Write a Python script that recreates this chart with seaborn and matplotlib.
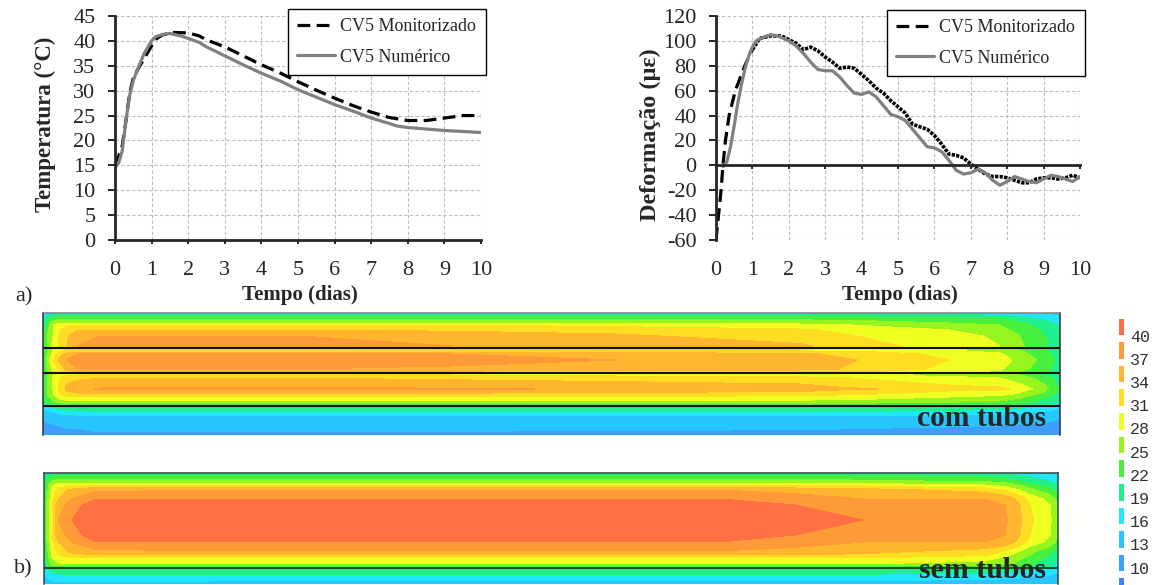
import numpy as np
import matplotlib
matplotlib.use('Agg')
import matplotlib.pyplot as plt
from matplotlib.colors import ListedColormap
import seaborn as sns

# curvas de temperatura (CV5)
t_temp_mon = [0, 0.1, 0.2, 0.3, 0.4, 0.5, 0.6, 0.8, 1, 1.1, 1.3, 1.6, 2, 2.3, 2.5, 3, 3.5, 4, 4.5, 5, 5.5, 6, 6.5, 7, 7.5, 8, 8.5, 9, 9.5, 10]
temp_mon = [15, 16.8, 19, 24, 29.5, 32.5, 34, 36.5, 39, 40.3, 41.2, 41.7, 41.6, 41, 40.2, 38.8, 37, 35.2, 33.6, 31.8, 30.1, 28.5, 27, 25.7, 24.6, 24, 24, 24.5, 25, 25]
t_temp_num = [0, 0.1, 0.2, 0.3, 0.4, 0.5, 0.6, 0.8, 1, 1.1, 1.3, 1.5, 1.8, 2, 2.3, 2.5, 3, 3.5, 4, 4.5, 5, 5.5, 6, 6.5, 7, 7.5, 7.7, 8, 8.5, 9, 9.5, 10]
temp_num = [14.5, 15.5, 18, 24, 29, 32, 34, 37.5, 40, 40.8, 41.3, 41.5, 41, 40.5, 39.7, 38.8, 37, 35.2, 33.5, 32, 30.2, 28.7, 27.2, 25.9, 24.5, 23.4, 22.9, 22.6, 22.3, 22, 21.8, 21.6]

# curvas de deformacao (CV5)
t_def_mon = [0, 0.07, 0.14, 0.19, 0.26, 0.36, 0.53, 0.79, 1, 1.2, 1.5, 1.8, 2, 2.2, 2.4, 2.6, 2.8, 3, 3.2, 3.4, 3.6, 3.8, 4, 4.2, 4.4, 4.6, 4.8, 5, 5.2, 5.4, 5.6, 5.8, 6, 6.2, 6.4, 6.6, 6.8, 7, 7.2, 7.4, 7.6, 7.8, 8, 8.2, 8.4, 8.6, 8.8, 9, 9.2, 9.4, 9.6, 9.8, 10]
def_mon = [-60, -40, -20, 0, 20, 40, 60, 80, 93, 102, 104, 104, 101, 98, 93, 95, 92, 87, 83, 78, 79, 78, 73, 68, 62, 58, 52, 47, 42, 33, 31, 29, 24, 17, 9, 8, 6, 1, -3, -7, -9, -9, -10, -12, -14, -14, -11, -10, -10, -11, -10, -8, -10]
t_def_num = [0.2, 0.3, 0.4, 0.5, 0.6, 0.7, 0.8, 0.9, 1, 1.1, 1.3, 1.5, 1.7, 2, 2.2, 2.4, 2.6, 2.8, 3, 3.2, 3.4, 3.6, 3.8, 4, 4.2, 4.4, 4.6, 4.8, 5, 5.2, 5.4, 5.6, 5.8, 6, 6.2, 6.4, 6.6, 6.8, 7, 7.2, 7.4, 7.6, 7.8, 8, 8.2, 8.4, 8.6, 8.8, 9, 9.2, 9.4, 9.6, 9.8, 10]
def_num = [-1, 3, 15, 32, 50, 65, 78, 88, 95, 100, 103, 105, 104, 100, 96, 90, 83, 77, 76, 76, 71, 64, 58, 57, 59, 55, 48, 41, 39, 36, 29, 22, 15, 14, 11, 4, -4, -7, -6, -3, -6, -12, -16, -13, -9, -11, -13, -14, -11, -8, -9, -11, -13, -9]

x_ticks = list(range(0, 11))
temp_ticks = list(range(0, 50, 5))
def_ticks = list(range(-60, 140, 20))

# escala de cores do mapa termico
levels = [7, 10, 13, 16, 19, 22, 25, 28, 31, 34, 37, 40, 43]
level_colors = ['#4080ff', '#3c9eff', '#28c6ff', '#22e6ff', '#20f08c', '#46f03c',
                '#96f51e', '#f0ff22', '#ffdd22', '#ffb52e', '#ff9a38', '#ff7043']
scale_labels = [40, 37, 34, 31, 28, 25, 22, 19, 16, 13, 10]

# mapa "com tubos": temperatura por coluna (comp_a) e linha (alt_a)
comp_a = [43, 47, 53, 60, 67, 78, 100, 300, 453, 616, 800, 877, 950, 1000, 1020, 1045, 1060]
alt_a = [313, 316, 319, 323, 325, 330, 336, 346, 348, 350, 352, 354, 360, 369, 371.5, 373, 375, 378, 387, 389, 390, 394, 397, 401, 404, 407, 412, 416, 426, 435]
temp_a = [
    [15, 16, 17, 18, 19, 20, 21, 21, 21, 21, 21, 21, 21, 21, 21, 21, 21, 21, 21, 21, 21, 21, 20.5, 20.5, 20, 17, 14, 13, 12, 11],
    [16, 19, 21, 22, 22.5, 24, 25, 25, 25, 25, 25, 25, 26, 25, 25, 25, 25, 25, 25, 25, 25, 25, 24, 23, 21, 18, 15, 14, 12.5, 11.5],
    [18, 21, 24, 26, 28, 28, 28, 29, 28.5, 28, 28.5, 29, 31, 29, 28.5, 28, 28, 28.5, 28.5, 28.5, 28, 28, 27, 25, 23, 20, 16, 14.5, 12.7, 11.7],
    [19, 22, 25, 28, 29.5, 31, 31.5, 31.5, 31, 30, 31, 33, 35, 32, 30.5, 30, 30, 31, 32, 32, 32, 31, 29, 27, 24, 21, 17, 15, 13, 12],
    [19, 22, 25, 28, 30.5, 33, 33.5, 34, 33, 31, 33, 35, 37, 35, 33, 31, 31, 33, 34.5, 34.5, 34.5, 33, 30, 27.5, 24.5, 21.5, 17.5, 15.2, 13.3, 12],
    [19, 22, 25, 28, 31, 34, 37, 37, 33, 31.5, 34, 37, 38, 37, 34, 31, 31, 33.5, 35.5, 35.5, 35.5, 33.5, 30.5, 28, 25, 22, 18, 15.5, 13.5, 12],
    [19, 22, 25, 28, 31, 34, 37, 37.5, 33, 31.5, 34, 37.5, 38.5, 37, 34, 31, 31.5, 34, 36.5, 37.5, 36.5, 34, 31, 28, 25, 22, 18.5, 16, 14, 12.5],
    [19, 22, 25, 28, 31, 34, 37, 37.5, 33, 31.5, 34, 37.5, 38.5, 37, 34, 31, 31.5, 34, 37, 38, 37, 34, 31, 28, 25, 22, 19, 16, 14, 12.5],
    [19, 22, 25, 28, 31, 33.5, 36, 37, 33, 31, 33.5, 37, 38, 36.5, 33.5, 30.5, 31, 33.5, 36, 37.5, 36, 33.5, 31, 28, 25, 22, 19, 16, 14, 12.3],
    [19, 22, 25, 27.5, 30, 33, 34.5, 36, 33, 31, 33.5, 36, 37, 36, 33, 30, 30, 33, 35.5, 36.5, 35.5, 33, 30.5, 28, 25, 22, 19, 16, 14, 12],
    [19, 22, 24.5, 27, 29, 31.5, 32.5, 34.5, 32, 30, 32.5, 34.5, 35.5, 35, 32.5, 29.5, 29.5, 32, 35, 37, 35, 32.5, 30, 27.5, 24.5, 22, 19, 16, 13.7, 12],
    [18.5, 21, 24, 26, 27.5, 29.5, 30.5, 31.5, 30, 29, 31, 32.5, 33.5, 33, 31, 29, 28, 30.5, 33, 34, 33, 31, 29, 27, 24, 21.5, 18.5, 15.5, 13.5, 11.5],
    [18, 20.5, 23, 25, 26.5, 28, 29, 30, 29, 28, 29, 30, 31, 30, 29, 28, 27, 29, 31.5, 32.5, 31.5, 29.5, 28, 26, 23.5, 21, 18, 15.3, 13.2, 11.3],
    [17, 19.5, 22, 24, 25, 26, 27.5, 28, 27.5, 27, 27.5, 28.5, 29.5, 28.5, 27.5, 26.5, 26, 28, 31, 32, 31, 29, 27, 25, 23, 20.5, 17.5, 15, 13, 11],
    [16.5, 18.5, 20.5, 22.5, 23, 24, 25, 25.5, 25, 25, 25.5, 26, 27, 26, 25, 24.5, 25, 26.5, 29, 30, 29, 27.5, 25.5, 24, 22, 20, 17, 14.5, 12.8, 11],
    [15.5, 17, 18.5, 20, 20.5, 21.5, 22, 22.5, 22, 22, 22.5, 23, 24, 23, 22.5, 22, 22, 23.5, 25.5, 26, 25.5, 24, 22.5, 21, 20, 18, 16, 14, 12.5, 10.8],
    [15, 16, 17, 18, 18.5, 19.5, 20, 20, 20, 20, 20.5, 20.5, 21, 20.5, 20, 20, 20, 20.5, 21.5, 22, 21.5, 21, 20, 19, 18, 16.5, 15, 13.5, 12, 10.5],
]

# mapa "sem tubos"
comp_b = [44, 48, 52, 58, 72, 82, 97, 300, 600, 720, 795, 863, 985, 1005, 1020, 1030, 1050, 1058]
alt_b = [473, 476, 481, 484, 486, 488, 490, 499, 505, 520, 535, 542, 551, 555, 558, 564, 566, 570, 575, 584]
temp_b = [
    [18, 19, 20, 20.5, 21, 21, 21, 22, 22.5, 22.5, 22.5, 22, 21, 21, 20, 19, 18, 17, 16, 14],
    [19, 21, 23, 24, 24.5, 25, 25, 26, 27, 27, 27, 26, 25, 25, 24, 22.5, 21, 19, 17, 14.5],
    [20, 22, 25, 27, 28, 28.5, 29, 30, 31, 31, 31, 30, 29, 28.5, 28, 26, 24, 20.5, 18, 15],
    [20, 23, 26, 28.5, 30, 31, 32, 34, 35.5, 37, 35.5, 34, 32, 31, 30, 27.5, 25, 21, 18.5, 15],
    [20, 23, 26, 29, 31, 33, 35, 37, 38.5, 40, 38.5, 37, 35, 33, 31, 28, 25, 21.5, 18.5, 15],
    [20, 23, 26, 29, 31, 33.5, 35.5, 38, 40, 41, 40, 38, 35.5, 33.5, 31, 28, 25, 21.8, 18.7, 15],
    [20, 23, 26, 29, 32, 34.5, 36.5, 40, 41, 42, 41, 40, 36.5, 34, 31, 28, 25, 22, 19, 15],
    [20, 23, 26, 29, 32, 35, 37, 40, 41, 42, 41, 40, 37, 34, 31, 28, 25, 22, 19, 14],
    [20, 23, 26, 29, 32, 35, 37, 40, 41, 42, 41, 40, 37, 34, 31, 28, 25, 22, 19, 14],
    [20, 23, 26, 29, 32, 35, 37, 40, 41, 42, 41, 40, 37, 34, 31, 28, 25, 22, 19, 14],
    [20, 23, 26, 29, 31.5, 34, 36, 38.5, 40, 41.5, 40, 38.5, 36, 34, 31, 28, 25, 22, 19, 14],
    [19.5, 22.5, 25.5, 28.5, 31, 33.5, 35, 37, 38, 40, 38.5, 37, 35, 33.5, 31, 28, 25, 21.5, 18.5, 14.5],
    [18.5, 21.5, 24.5, 27, 29, 31, 33, 37, 37.5, 38, 37.5, 37, 33, 31.5, 29, 27, 24, 21, 18, 14],
    [18, 20.5, 23.5, 26, 27.5, 29, 31, 36, 37, 37.5, 37, 36, 31, 29, 27.5, 26, 23.5, 20.5, 17.5, 14],
    [17.5, 19.5, 22, 24, 25.5, 26.5, 28, 33, 34, 34.5, 34, 33, 28, 26.5, 25.5, 24, 22, 19.5, 17, 14],
    [17, 18.5, 20.5, 22.5, 24, 25, 26, 30, 31, 31.5, 31, 30, 26, 25, 24, 22.5, 21, 19, 16.5, 14],
    [16, 17, 19, 20, 21, 22, 23, 27, 28, 28.5, 28, 27, 23, 22, 21, 20, 19, 17.5, 16, 14],
    [15.5, 16.5, 17.5, 18.5, 19, 20, 21, 24, 25, 25.5, 25, 24, 21, 20, 19, 18.5, 18, 16.5, 15.5, 14],
]

sns.set_style('white')
plt.rcParams['font.family'] = ['Liberation Serif', 'DejaVu Serif']
plt.rcParams['axes.unicode_minus'] = False

W, H = 1155, 585
fig = plt.figure(figsize=(W / 100, H / 100), dpi=100)


def axes_px(left, top, right, bottom):
    return fig.add_axes([left / W, 1 - bottom / H, (right - left) / W, (bottom - top) / H])


def style_chart(ax, ylim, yticks, ylabel, lab_size, xpad, label_x, label_y):
    ax.set_xlim(0, 10)
    ax.set_ylim(*ylim)
    ax.set_xticks(x_ticks)
    ax.set_yticks(yticks)
    ax.grid(True, color='#bdbdbd', linestyle=(0, (3, 2)), linewidth=0.8)
    ax.set_axisbelow(True)
    for side in ['top', 'right']:
        ax.spines[side].set_visible(False)
    ax.spines['left'].set_linewidth(2)
    ax.spines['bottom'].set_linewidth(2)
    ax.tick_params(axis='y', labelsize=16, length=5, width=1.2, pad=9, color='black', left=True)
    ax.tick_params(axis='x', labelsize=16, length=3, width=1.2, pad=xpad, color='black', bottom=True)
    ax.set_ylabel(ylabel, fontsize=lab_size, fontweight='bold')
    ax.yaxis.set_label_coords(label_x, label_y)
    ax.set_xlabel('Tempo (dias)', fontsize=15, fontweight='bold')
    ax.xaxis.set_label_coords(0.504, -0.203)


def add_legend(ax, x0, y0, x1, y1):
    handles, labels = ax.get_legend_handles_labels()
    leg = ax.legend(handles, labels, loc='upper left', fontsize=13, frameon=True, fancybox=False,
                    edgecolor='black', framealpha=1, borderpad=0.5, labelspacing=0.76,
                    handlelength=2.1, handletextpad=0.3, borderaxespad=0,
                    bbox_to_anchor=(x0 / W, 1 - y1 / H, (x1 - x0) / W, (y1 - y0) / H),
                    bbox_transform=fig.transFigure, mode='expand')
    leg.get_frame().set_linewidth(1)


# grafico a) temperatura
ax1 = axes_px(115, 16, 481, 240)
sns.lineplot(x=t_temp_mon, y=temp_mon, ax=ax1, color='black', lw=2.3, linestyle=(0, (4, 2)),
             label='CV5 Monitorizado', errorbar=None)
sns.lineplot(x=t_temp_num, y=temp_num, ax=ax1, color='#808080', lw=2.3, label='CV5 Numérico', errorbar=None)
style_chart(ax1, (0, 45), temp_ticks, 'Temperatura (°C)', 16.5, 12, -0.161, 0.515)
add_legend(ax1, 288, 9, 486, 70)

# grafico b) deformacao
ax2 = axes_px(716, 16, 1080, 240)
n_trace = t_def_mon.index(1) + 1
sns.lineplot(x=t_def_mon[:n_trace], y=def_mon[:n_trace], ax=ax2, color='black', lw=2.3,
             linestyle=(0, (4, 2)), label='CV5 Monitorizado', errorbar=None)
sns.lineplot(x=t_def_mon[n_trace - 1:], y=def_mon[n_trace - 1:], ax=ax2, color='black', lw=2.6,
             linestyle=(0, (0.9, 0.35)), errorbar=None)
sns.lineplot(x=t_def_num, y=def_num, ax=ax2, color='#808080', lw=2.3, label='CV5 Numérico', errorbar=None)
style_chart(ax2, (-60, 120), def_ticks, 'Deformação (με)', 17.5, 66, -0.152, 0.469)
ax2.spines['bottom'].set_position(('data', 0))
add_legend(ax2, 887, 10, 1085, 68)

# mapas de temperatura
ax3 = axes_px(43, 313, 1060, 435)
ax3.contourf(comp_a, alt_a, np.array(temp_a).T, levels=levels, colors=level_colors)
ax3.set_xlim(43, 1060)
ax3.set_ylim(435, 313)
for y_line in [348, 373, 406]:
    ax3.axhline(y_line, color='#101010', lw=1.5)
ax3.text(1046, 418, 'com tubos', ha='right', va='center', fontsize=21.3, fontweight='bold')

ax4 = axes_px(44, 473, 1058, 584)
ax4.contourf(comp_b, alt_b, np.array(temp_b).T, levels=levels, colors=level_colors)
ax4.set_xlim(44, 1058)
ax4.set_ylim(584, 473)
ax4.axhline(568, color='#1c4a24', lw=1.5)
ax4.text(1046, 571, 'sem tubos', ha='right', va='center', fontsize=21.5, fontweight='bold')

for ax, edge in [(ax3, '#303030'), (ax4, '#2c4a40')]:
    ax.set_xticks([])
    ax.set_yticks([])
    ax.spines['bottom'].set_visible(False)
    for side in ['top', 'left', 'right']:
        ax.spines[side].set_color(edge)
        ax.spines[side].set_linewidth(1.1)
ax3.spines['top'].set_color('#808080')

# escala de cores
ax5 = axes_px(1114.75, 319 - 4.3, 1127.25, 319 - 4.3 + 12 * 23.6)
scale_vals = np.array(levels[:-1][::-1]).reshape(-1, 1)
sns.heatmap(scale_vals, ax=ax5, cmap=ListedColormap(level_colors), cbar=False, vmin=7, vmax=43,
            xticklabels=False, yticklabels=False, linewidths=4.7, linecolor='white')
for i, val in enumerate(scale_labels):
    fig.text(1130 / W, 1 - (337 + i * 23.2) / H, str(val), family='Liberation Mono', fontsize=12,
             color='#303030', ha='left', va='center')

fig.text(15 / W, 1 - 297 / H, 'a)', fontsize=16, ha='left', va='center')
fig.text(14 / W, 1 - 569 / H, 'b)', fontsize=16, ha='left', va='center')

fig.savefig('out.png', dpi=100)
